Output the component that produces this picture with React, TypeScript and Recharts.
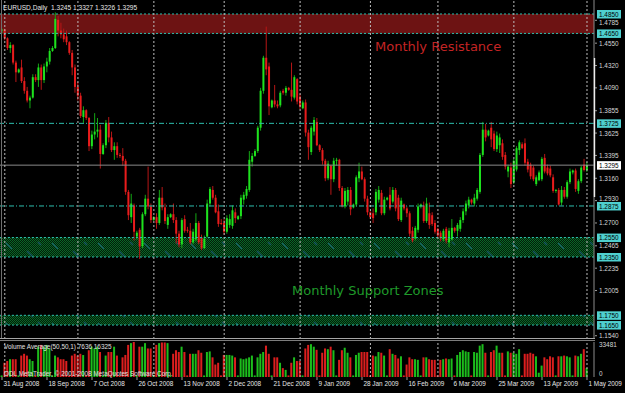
import { ComposedChart, Bar, XAxis, YAxis, ReferenceLine, ReferenceArea } from 'recharts';

// EURUSD daily candles, 31 Aug 2008 .. 1 May 2009 (one row per week, Sunday bar first)
const opens = [
  1.4680, 1.4690, 1.4600, 1.4500, 1.4530, 1.4350,
  1.4250, 1.4300, 1.4160, 1.4060, 1.3960, 1.3990,
  1.4200, 1.4170, 1.4300, 1.4170, 1.4310, 1.4360,
  1.4470, 1.4500, 1.4790, 1.4680, 1.4640, 1.4620,
  1.4560, 1.4450, 1.4300, 1.4100, 1.4010, 1.3790,
  1.3860, 1.3780, 1.3490, 1.3610, 1.3640, 1.3660,
  1.3410, 1.3500, 1.3730, 1.3580, 1.3450, 1.3490,
  1.3400, 1.3390, 1.3340, 1.3020, 1.2760, 1.2880,
  1.2560, 1.2630, 1.2460, 1.2790, 1.2950, 1.2870,
  1.2730, 1.2760, 1.2700, 1.2960, 1.2860, 1.2680,
  1.2760, 1.2790, 1.2730, 1.2590, 1.2480, 1.2740,
  1.2630, 1.2620, 1.2500, 1.2530, 1.2700, 1.2550,
  1.2440, 1.2560, 1.2900, 1.3040, 1.2960, 1.2820,
  1.2700, 1.2700, 1.2610, 1.2680, 1.2670, 1.2810,
  1.2740, 1.2770, 1.2940, 1.2980, 1.3040, 1.3330,
  1.3390, 1.3440, 1.3680, 1.4060, 1.4400, 1.4310,
  1.3890, 1.3960, 1.3920, 1.3910, 1.4060, 1.4040,
  1.4090, 1.4070, 1.3990, 1.4180, 1.4000,
  1.3880, 1.3940, 1.3630, 1.3430, 1.3640, 1.3740,
  1.3500, 1.3450, 1.3340, 1.3160, 1.3290, 1.3150,
  1.3340, 1.3350, 1.3060, 1.2870, 1.2920, 1.3040,
  1.2860, 1.2890, 1.3160, 1.3230, 1.3150, 1.2950,
  1.2810, 1.2800, 1.2810, 1.2940, 1.3010, 1.2800,
  1.2940, 1.2990, 1.2920, 1.3040, 1.2960, 1.2730,
  1.2890, 1.2850, 1.2800, 1.2620, 1.2540, 1.2630,
  1.2870, 1.2880, 1.2720, 1.2800, 1.2780, 1.2700,
  1.2640, 1.2600, 1.2530, 1.2640, 1.2500, 1.2530,
  1.2650, 1.2620, 1.2640, 1.2730, 1.2820, 1.2880,
  1.2940, 1.2900, 1.2950, 1.3020, 1.3400, 1.3660,
  1.3600, 1.3680, 1.3620, 1.3460, 1.3500, 1.3520,
  1.3400, 1.3230, 1.3270, 1.3120, 1.3250, 1.3450,
  1.3510, 1.3520, 1.3330, 1.3300, 1.3270, 1.3100,
  1.3140, 1.3150, 1.3370, 1.3270, 1.3260, 1.3170,
  1.3030, 1.3040, 1.2910, 1.3040, 1.2970, 1.3120,
  1.3220, 1.3240, 1.3030, 1.3130, 1.3300, 1.3245,
];

const highs = [
  1.4700, 1.4700, 1.4610, 1.4560, 1.4540, 1.4370,
  1.4290, 1.4380, 1.4200, 1.4100, 1.4010, 1.4230,
  1.4230, 1.4340, 1.4330, 1.4340, 1.4400, 1.4500,
  1.4520, 1.4867, 1.4830, 1.4760, 1.4700, 1.4680,
  1.4570, 1.4480, 1.4330, 1.4150, 1.4040, 1.3900,
  1.3870, 1.3790, 1.3650, 1.3830, 1.3780, 1.3710,
  1.3520, 1.3760, 1.3790, 1.3640, 1.3530, 1.3530,
  1.3420, 1.3470, 1.3360, 1.3040, 1.3000, 1.2900,
  1.2620, 1.2650, 1.2810, 1.2990, 1.3280, 1.2900,
  1.2770, 1.2800, 1.3040, 1.3070, 1.2900, 1.2790,
  1.2800, 1.2900, 1.2760, 1.2620, 1.2750, 1.2780,
  1.2660, 1.2700, 1.2640, 1.2800, 1.2720, 1.2580,
  1.2570, 1.2940, 1.3070, 1.3080, 1.2990, 1.2890,
  1.2740, 1.2740, 1.2780, 1.2790, 1.2880, 1.2850,
  1.2780, 1.2990, 1.3020, 1.3080, 1.3440, 1.3420,
  1.3460, 1.3700, 1.4090, 1.4420, 1.4720, 1.4350,
  1.3970, 1.4120, 1.3960, 1.4060, 1.4080, 1.4110,
  1.4100, 1.4350, 1.4220, 1.4190, 1.4030,
  1.3960, 1.3970, 1.3660, 1.3700, 1.3790, 1.3780,
  1.3510, 1.3470, 1.3360, 1.3340, 1.3300, 1.3370,
  1.3370, 1.3360, 1.3080, 1.3060, 1.3070, 1.3070,
  1.2900, 1.3190, 1.3320, 1.3280, 1.3170, 1.2980,
  1.2820, 1.2850, 1.3050, 1.3080, 1.3040, 1.2970,
  1.2970, 1.3070, 1.3070, 1.3060, 1.2990, 1.2960,
  1.2900, 1.2870, 1.2820, 1.2660, 1.2670, 1.2900,
  1.2900, 1.2920, 1.2960, 1.2910, 1.2810, 1.2730,
  1.2650, 1.2620, 1.2640, 1.2660, 1.2650, 1.2740,
  1.2660, 1.2700, 1.2760, 1.2850, 1.2930, 1.2970,
  1.2950, 1.3000, 1.3060, 1.3420, 1.3740, 1.3720,
  1.3660, 1.3740, 1.3650, 1.3640, 1.3620, 1.3560,
  1.3430, 1.3300, 1.3320, 1.3360, 1.3490, 1.3550,
  1.3530, 1.3570, 1.3360, 1.3320, 1.3290, 1.3190,
  1.3240, 1.3380, 1.3410, 1.3300, 1.3290, 1.3200,
  1.3050, 1.3060, 1.3080, 1.3070, 1.3140, 1.3260,
  1.3250, 1.3260, 1.3150, 1.3290, 1.3360, 1.3327,
];

const lows = [
  1.4650, 1.4580, 1.4480, 1.4450, 1.4330, 1.4150,
  1.4240, 1.4140, 1.4030, 1.3940, 1.3880, 1.3980,
  1.4150, 1.4100, 1.4070, 1.4140, 1.4250, 1.4330,
  1.4460, 1.4490, 1.4620, 1.4600, 1.4560, 1.4530,
  1.4430, 1.4220, 1.4040, 1.3960, 1.3780, 1.3730,
  1.3760, 1.3440, 1.3460, 1.3560, 1.3580, 1.3260,
  1.3400, 1.3470, 1.3530, 1.3430, 1.3350, 1.3370,
  1.3370, 1.3290, 1.2990, 1.2730, 1.2700, 1.2520,
  1.2530, 1.2330, 1.2440, 1.2770, 1.2840, 1.2700,
  1.2720, 1.2640, 1.2680, 1.2830, 1.2690, 1.2640,
  1.2750, 1.2700, 1.2490, 1.2450, 1.2440, 1.2600,
  1.2600, 1.2480, 1.2480, 1.2510, 1.2480, 1.2420,
  1.2430, 1.2550, 1.2870, 1.2940, 1.2800, 1.2660,
  1.2680, 1.2580, 1.2590, 1.2650, 1.2640, 1.2700,
  1.2730, 1.2740, 1.2890, 1.2950, 1.3020, 1.3280,
  1.3380, 1.3420, 1.3650, 1.4030, 1.4220, 1.3810,
  1.3880, 1.3890, 1.3880, 1.3890, 1.4020, 1.4010,
  1.4060, 1.3950, 1.3970, 1.3920, 1.3870,
  1.3870, 1.3590, 1.3350, 1.3400, 1.3600, 1.3490,
  1.3430, 1.3300, 1.3130, 1.3140, 1.2990, 1.3120,
  1.3290, 1.3030, 1.2860, 1.2850, 1.2880, 1.2780,
  1.2850, 1.2870, 1.3120, 1.3140, 1.2920, 1.2780,
  1.2740, 1.2700, 1.2780, 1.2910, 1.2780, 1.2780,
  1.2930, 1.2830, 1.2900, 1.2820, 1.2720, 1.2710,
  1.2830, 1.2760, 1.2560, 1.2500, 1.2520, 1.2600,
  1.2850, 1.2700, 1.2700, 1.2640, 1.2670, 1.2590,
  1.2550, 1.2510, 1.2510, 1.2490, 1.2450, 1.2520,
  1.2600, 1.2560, 1.2610, 1.2700, 1.2780, 1.2850,
  1.2890, 1.2870, 1.2930, 1.3000, 1.3380, 1.3540,
  1.3590, 1.3480, 1.3440, 1.3430, 1.3420, 1.3350,
  1.3250, 1.3170, 1.3060, 1.3100, 1.3230, 1.3400,
  1.3460, 1.3290, 1.3220, 1.3150, 1.3130, 1.3080,
  1.3130, 1.3130, 1.3210, 1.3190, 1.3170, 1.3010,
  1.3010, 1.2880, 1.2880, 1.2950, 1.2950, 1.3100,
  1.3200, 1.3020, 1.3000, 1.3110, 1.3230, 1.3226,
];

const closes = [
  1.4690, 1.4600, 1.4500, 1.4530, 1.4350, 1.4250,
  1.4280, 1.4160, 1.4060, 1.3960, 1.3990, 1.4200,
  1.4170, 1.4300, 1.4170, 1.4310, 1.4360, 1.4470,
  1.4500, 1.4800, 1.4680, 1.4640, 1.4590, 1.4560,
  1.4450, 1.4300, 1.4100, 1.4010, 1.3800, 1.3860,
  1.3780, 1.3490, 1.3610, 1.3640, 1.3660, 1.3410,
  1.3500, 1.3730, 1.3580, 1.3450, 1.3490, 1.3400,
  1.3390, 1.3340, 1.3020, 1.2780, 1.2900, 1.2610,
  1.2600, 1.2460, 1.2790, 1.2950, 1.2870, 1.2730,
  1.2760, 1.2700, 1.2960, 1.2860, 1.2720, 1.2760,
  1.2790, 1.2730, 1.2590, 1.2480, 1.2730, 1.2620,
  1.2620, 1.2500, 1.2610, 1.2700, 1.2500, 1.2440,
  1.2540, 1.2900, 1.3050, 1.2960, 1.2810, 1.2690,
  1.2690, 1.2610, 1.2750, 1.2740, 1.2830, 1.2750,
  1.2770, 1.2960, 1.2990, 1.3050, 1.3350, 1.3390,
  1.3440, 1.3680, 1.4060, 1.4400, 1.4280, 1.3900,
  1.3960, 1.3920, 1.3900, 1.4040, 1.4040, 1.4090,
  1.4070, 1.4000, 1.4200, 1.3950, 1.3900,
  1.3940, 1.3630, 1.3480, 1.3680, 1.3760, 1.3500,
  1.3450, 1.3340, 1.3160, 1.3310, 1.3150, 1.3340,
  1.3350, 1.3060, 1.2870, 1.3030, 1.3040, 1.2840,
  1.2890, 1.3170, 1.3230, 1.3150, 1.2950, 1.2810,
  1.2760, 1.2750, 1.3020, 1.3040, 1.2800, 1.2940,
  1.2960, 1.2850, 1.3040, 1.2850, 1.2740, 1.2930,
  1.2850, 1.2800, 1.2590, 1.2520, 1.2650, 1.2870,
  1.2890, 1.2720, 1.2900, 1.2680, 1.2690, 1.2610,
  1.2570, 1.2540, 1.2620, 1.2520, 1.2620, 1.2650,
  1.2620, 1.2680, 1.2730, 1.2820, 1.2900, 1.2940,
  1.2910, 1.2960, 1.3040, 1.3400, 1.3660, 1.3580,
  1.3650, 1.3560, 1.3460, 1.3600, 1.3580, 1.3380,
  1.3280, 1.3280, 1.3100, 1.3340, 1.3470, 1.3530,
  1.3470, 1.3320, 1.3250, 1.3180, 1.3150, 1.3170,
  1.3220, 1.3360, 1.3230, 1.3210, 1.3190, 1.3030,
  1.3040, 1.2890, 1.3040, 1.2970, 1.3120, 1.3230,
  1.3240, 1.3050, 1.3130, 1.3270, 1.3245, 1.3295,
];

const volumes = [
  1500, 13600, 15300, 17000, 17000, 17000,
  1500, 20500, 22200, 20500, 17000, 15300,
  1500, 29000, 30700, 29000, 30700, 27300,
  1500, 20500, 18800, 17000, 17000, 15300,
  1500, 20500, 22200, 20500, 22200, 21000,
  1500, 25600, 29000, 27300, 29000, 23900,
  1500, 20500, 23900, 23900, 29000, 20500,
  1500, 18800, 21100, 30700, 32400, 33481,
  1500, 29000, 29000, 32400, 27300, 27300,
  1500, 30700, 32400, 33000, 33000, 32400,
  1500, 22200, 25600, 23900, 29000, 23900,
  1500, 22200, 22200, 22200, 25600, 23200,
  1500, 23900, 24500, 18800, 11900, 13600,
  1500, 21100, 21100, 21100, 20500, 18800,
  1500, 17700, 17000, 17700, 18800, 20500,
  1500, 18800, 22200, 23900, 30000, 22200,
  1500, 18800, 18800, 13600, 8500, 6800,
  1500, 13600, 18800, 15300, 15300,
  1500, 27300, 30700, 31400, 29000, 26000,
  1500, 23200, 27300, 26600, 29000, 25600,
  1500, 16400, 25600, 28000, 23200, 18800,
  1500, 21100, 23200, 23900, 23900, 23900,
  1500, 20500, 19800, 23900, 23200, 20500,
  1500, 26600, 22200, 21100, 17700, 19800,
  1500, 11900, 18800, 17000, 17000, 16400,
  1500, 18800, 18800, 17000, 16400, 16400,
  1500, 16400, 17000, 17700, 17000, 17700,
  1500, 21100, 23900, 25600, 24500, 23900,
  1500, 23900, 23200, 30000, 31400, 23200,
  1500, 23900, 25600, 30000, 23200, 23200,
  1500, 24500, 23200, 23200, 22200, 26600,
  1500, 22200, 22200, 23200, 22200, 19800,
  4100, 10900, 18800, 17000, 19800, 18800,
  1500, 19800, 19800, 20500, 19800, 18800,
  1500, 20500, 19800, 22200, 26600, 8500,
];

const dateLabels = [
  '31 Aug 2008', '18 Sep 2008', '7 Oct 2008', '26 Oct 2008', '13 Nov 2008', '2 Dec 2008', '21 Dec 2008',
  '9 Jan 2009', '28 Jan 2009', '16 Feb 2009', '6 Mar 2009', '25 Mar 2009', '13 Apr 2009', '1 May 2009',
];
const dateLabelBars = [0, 16, 32, 48, 64, 80, 96, 112, 128, 144, 160, 176, 192, 208];
const monthStartBars = [1, 27, 54, 79, 106, 131, 155, 182, 208];

const priceTicks = [1.4785, 1.455, 1.432, 1.409, 1.3855, 1.3625, 1.3395, 1.316, 1.293, 1.27, 1.2465, 1.2235, 1.2005, 1.154];
const resistanceZone = [1.465, 1.485];
const supportZones = [[1.235, 1.255], [1.165, 1.175]];
const swingLevels = [1.3725, 1.2875];
const lastPrice = 1.3295;
const volumeTicks = [0, 33481];
const titleText = 'EURUSD,Daily  1.3245 1.3327 1.3226 1.3295';

const boxedLevels = [...resistanceZone, ...swingLevels, ...supportZones.flat()];

const X_DOMAIN: [number, number] = [-0.71, 210.49];
const PRICE_DOMAIN: [number, number] = [1.15064, 1.4994];

const FONT = '"Liberation Sans", Arial, sans-serif';
const BULL = '#1ee21e';
const BEAR = '#e81c1c';
const BULL_WICK = '#14a814';
const BEAR_WICK = '#b81616';
const TEAL = '#2ebfae';
const TEAL_BOX = '#4fd0cf';

const rows = opens.map((open, i) => ({
  i,
  open,
  high: highs[i],
  low: lows[i],
  close: closes[i],
  range: [lows[i], highs[i]],
  vol: volumes[i],
}));

const same = (a: number, b: number) => Math.abs(a - b) < 1e-7;

function Candle(props: any) {
  const { x, y, width, height, payload } = props;
  if (x == null || y == null || !payload) return null;
  const top = Math.min(y, y + height);
  const h = Math.abs(height);
  const { open, close, high, low } = payload;
  const span = high - low || 1;
  const py = (p: number) => top + ((high - p) / span) * h;
  const up = close >= open;
  const cx = x + width / 2;
  const bTop = py(Math.max(open, close));
  const bBot = py(Math.min(open, close));
  return (
    <g>
      <line x1={cx} x2={cx} y1={top} y2={top + h} stroke={up ? BULL_WICK : BEAR_WICK} strokeWidth={1} />
      <rect x={cx - 1} y={bTop} width={2} height={Math.max(1, bBot - bTop)} fill={up ? BULL : BEAR} />
    </g>
  );
}

function VolumeBar(props: any) {
  const { x, y, width, height, payload } = props;
  if (x == null || y == null || !payload) return null;
  const up = payload.close >= payload.open;
  const cx = x + width / 2;
  return <rect x={cx - 1} y={Math.min(y, y + height)} width={2} height={Math.abs(height)} fill={up ? '#1cbd1c' : '#dc1e1e'} />;
}

function PriceTick(props: any) {
  const { x, y, payload } = props;
  const v = payload.value;
  const label = v.toFixed(4);
  if (same(v, lastPrice) || boxedLevels.some((l) => same(l, v))) {
    const bg = same(v, lastPrice) ? '#ffffff' : TEAL_BOX;
    return (
      <g>
        <rect x={x + 3} y={y - 4} width={24} height={8.5} fill={bg} />
        <text x={x + 5} y={y + 0.3} dominantBaseline="central" fontSize={6.4} fontFamily={FONT} fill="#000">{label}</text>
      </g>
    );
  }
  // plain labels that sit right next to a boxed level are nudged off the box
  const near = boxedLevels.find((l) => Math.abs(l - v) < 0.0075);
  const dy = near === undefined ? 0 : near < v ? -1.8 : 1.8;
  return (
    <g>
      <line x1={x + 1} x2={x + 3} y1={y} y2={y} stroke="#9a9a9a" />
      <text x={x + 5} y={y + dy} dominantBaseline="central" fontSize={6.4} fontFamily={FONT} fill="#d6d6d6">{label}</text>
    </g>
  );
}

function VolumeTick(props: any) {
  const { x, y, payload } = props;
  const v = payload.value;
  return (
    <text x={x + 5} y={v === 0 ? y - 4 : y + 2.5} dominantBaseline="central" fontSize={6.4} fontFamily={FONT} fill="#d6d6d6">
      {v}
    </text>
  );
}

function DateTick(props: any) {
  const { x, y, payload } = props;
  const idx = dateLabelBars.indexOf(payload.value);
  return (
    <g>
      <line x1={x} x2={x} y1={y} y2={y + 3} stroke="#9a9a9a" />
      <text x={x + 1.5} y={y + 9} fontSize={6.4} fontFamily={FONT} fill="#e6e6e6">{dateLabels[idx]}</text>
    </g>
  );
}

export default function App() {
  return (
    <div style={{ position: 'absolute', left: 0, top: 0, width: 625, height: 393, background: '#000', overflow: 'hidden' }}>
      <div style={{ position: 'absolute', left: 0, top: 0 }}>
        <ComposedChart width={625} height={339} data={rows} margin={{ top: 0, right: 0, bottom: 0, left: 0 }}>
          <defs>
            <pattern id="checker" width={2} height={2} patternUnits="userSpaceOnUse">
              <rect width={2} height={2} fill="#021c09" />
              <rect width={1} height={1} fill="#0a6626" />
              <rect x={1} y={1} width={1} height={1} fill="#0a6626" />
            </pattern>
            <pattern id="supportFill" width={46} height={20} patternUnits="userSpaceOnUse">
              <rect width={46} height={20} fill="url(#checker)" />
              <line x1={6} y1={3} x2={12} y2={9} stroke="#155f66" strokeWidth={1.2} />
              <line x1={27} y1={11} x2={33} y2={17} stroke="#155f66" strokeWidth={1.2} />
              <line x1={38} y1={2} x2={41} y2={5} stroke="#155f66" strokeWidth={1.2} />
            </pattern>
          </defs>
          <XAxis type="number" dataKey="i" domain={X_DOMAIN} hide allowDataOverflow />
          <YAxis
            orientation="right"
            width={31}
            domain={PRICE_DOMAIN}
            ticks={[...priceTicks, ...boxedLevels, lastPrice]}
            interval={0}
            tick={(p: any) => <PriceTick {...p} />}
            tickLine={false}
            tickSize={0}
            tickMargin={0}
            axisLine={{ stroke: '#8c8c8c' }}
            allowDataOverflow
          />
          <ReferenceArea y1={resistanceZone[0]} y2={resistanceZone[1]} fill="#6d1313" fillOpacity={1} />
          {supportZones.map(([lo, hi]) => (
            <ReferenceArea key={lo} y1={lo} y2={hi} fill="url(#supportFill)" fillOpacity={1} />
          ))}
          {[...resistanceZone, ...supportZones.flat()].map((v) => (
            <ReferenceLine key={'z' + v} y={v} stroke={TEAL} strokeDasharray="2 2" />
          ))}
          {swingLevels.map((v) => (
            <ReferenceLine key={'s' + v} y={v} stroke={TEAL} strokeDasharray="5 2 1 2" />
          ))}
          <ReferenceLine y={lastPrice} stroke="#8a8a8a" />
          {monthStartBars.map((b) => (
            <ReferenceLine key={'m' + b} x={b} stroke="#bdbdbd" strokeDasharray="2 2" />
          ))}
          <Bar dataKey="range" shape={Candle} barSize={3} isAnimationActive={false} />
        </ComposedChart>
      </div>
      <div style={{ position: 'absolute', left: 0, top: 339 }}>
        <ComposedChart width={625} height={54} data={rows} margin={{ top: 3, right: 0, bottom: 0, left: 0 }}>
          <XAxis
            type="number"
            dataKey="i"
            domain={X_DOMAIN}
            allowDataOverflow
            ticks={dateLabelBars}
            interval={0}
            height={16}
            axisLine={false}
            tickLine={false}
            tickSize={0}
            tickMargin={0}
            tick={(p: any) => <DateTick {...p} />}
          />
          <YAxis
            orientation="right"
            width={31}
            domain={[0, volumeTicks[1]]}
            ticks={volumeTicks}
            interval={0}
            tick={(p: any) => <VolumeTick {...p} />}
            tickLine={false}
            tickSize={0}
            tickMargin={0}
            axisLine={{ stroke: '#8c8c8c' }}
            allowDataOverflow
          />
          {monthStartBars.map((b) => (
            <ReferenceLine key={'mv' + b} x={b} stroke="#bdbdbd" strokeDasharray="2 2" />
          ))}
          <Bar dataKey="vol" shape={VolumeBar} barSize={2} isAnimationActive={false} />
        </ComposedChart>
      </div>
      <svg width={625} height={393} style={{ position: 'absolute', left: 0, top: 0, pointerEvents: 'none' }}>
        <line x1={0} x2={595} y1={338.5} y2={338.5} stroke="#a6a6a6" />
        <line x1={0} x2={595} y1={340.5} y2={340.5} stroke="#7c7c7c" />
        <line x1={1.5} x2={1.5} y1={0} y2={338} stroke="#6e6e6e" />
        <line x1={594.5} x2={594.5} y1={58} y2={197} stroke="#ececec" strokeWidth={1.4} />
        <text x={3} y={9.5} fontSize={6.6} fontFamily={FONT} fill="#e8e8e8" style={{ whiteSpace: 'pre' }}>{titleText}</text>
        <text x={375} y={51} fontSize={13} fontFamily='"DejaVu Sans", sans-serif' fill="#c42424">Monthly Resistance</text>
        <text x={292} y={295} fontSize={13} fontFamily='"DejaVu Sans", sans-serif' fill="#1f9a2a">Monthly Support Zones</text>
        <text x={4} y={349} fontSize={6.4} fontFamily={FONT} fill="#e0e0e0">Volume Average(50,50,1) 7636 16325</text>
        <text x={4} y={376} fontSize={6.4} fontFamily={FONT} fill="#e0e0e0">ODL MetaTrader, © 2001-2008 MetaQuotes Software Corp.</text>
      </svg>
    </div>
  );
}
